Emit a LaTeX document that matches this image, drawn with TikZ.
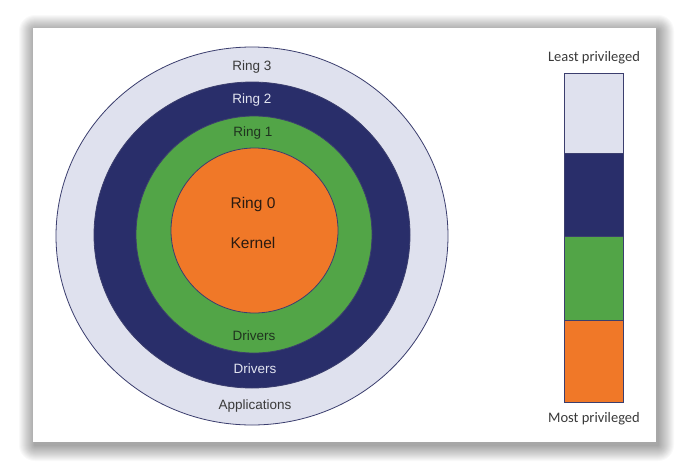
\documentclass[tikz,border=0pt]{standalone}
\usepackage{fontspec}
\setmainfont{Liberation Sans}
\newfontfamily\barfont{Carlito}
\definecolor{ringlight}{HTML}{DFE1EE}
\definecolor{ringnavy}{HTML}{292E6A}
\definecolor{ringgreen}{HTML}{52A547}
\definecolor{ringorange}{HTML}{F07828}
\definecolor{edgecol}{HTML}{3B3E6E}
\definecolor{darktext}{HTML}{3A3A3A}
\definecolor{lighttext}{HTML}{E2E4F0}
\definecolor{greentext}{HTML}{1F331F}
\definecolor{orangetext}{HTML}{2A1A10}
\tikzset{
  ringedge/.style={draw=edgecol, line width=0.8pt},
  ringlabel/.style={font=\fontsize{13.5}{15}\selectfont, inner sep=0pt},
  corelabel/.style={font=\fontsize{15.5}{17}\selectfont, inner sep=0pt},
  barlabel/.style={font=\barfont\fontsize{14.5}{16}\selectfont, text=darktext, inner sep=0pt},
  barseg/.style={draw=edgecol, line width=0.8pt}
}
\begin{document}
\begin{tikzpicture}[x=1pt,y=-1pt]
\useasboundingbox (0,0) rectangle (688,474);
\fill[white] (0,0) rectangle (688,474);
% card shadow
\foreach \i in {1,...,16}{
  \fill[black, opacity=0.024, rounded corners=\i pt] (33-\i+2,28-\i+3) rectangle (656+\i+2,442+\i+3);
}
\fill[white] (33,28) rectangle (656,442);
% rings
\filldraw[ringedge, fill=ringlight] (252,236) ellipse [x radius=196, y radius=189];
\filldraw[ringedge, fill=ringnavy] (252,235) ellipse [x radius=158, y radius=153];
\filldraw[ringedge, fill=ringgreen] (254,234.5) ellipse [x radius=118, y radius=118.5];
\filldraw[ringedge, fill=ringorange] (254.5,230.5) ellipse [x radius=83.5, y radius=82.5];
% ring labels
\node[ringlabel, text=darktext] (r3) at (252,67) {Ring 3};
\node[ringlabel, text=lighttext] (r2) at (252,100) {Ring 2};
\node[ringlabel, text=greentext] (r1) at (253,133) {Ring 1};
\node[corelabel, text=orangetext] (r0) at (253,204) {Ring 0};
\node[corelabel, text=orangetext] (kern) at (253,243) {Kernel};
\node[ringlabel, text=greentext] (drv1) at (254,336) {Drivers};
\node[ringlabel, text=lighttext] (drv2) at (255,369) {Drivers};
\node[ringlabel, text=darktext] (apps) at (255,406) {Applications};
% privilege bar
\filldraw[barseg, fill=ringlight] (564,73) rectangle (623,153);
\filldraw[barseg, fill=ringnavy] (564,153) rectangle (623,236);
\filldraw[barseg, fill=ringgreen] (564,236) rectangle (623,320);
\filldraw[barseg, fill=ringorange] (564,320) rectangle (623,402);
\node[barlabel] (least) at (594,58) {Least privileged};
\node[barlabel] (most) at (594,419) {Most privileged};
\end{tikzpicture}
\end{document}
